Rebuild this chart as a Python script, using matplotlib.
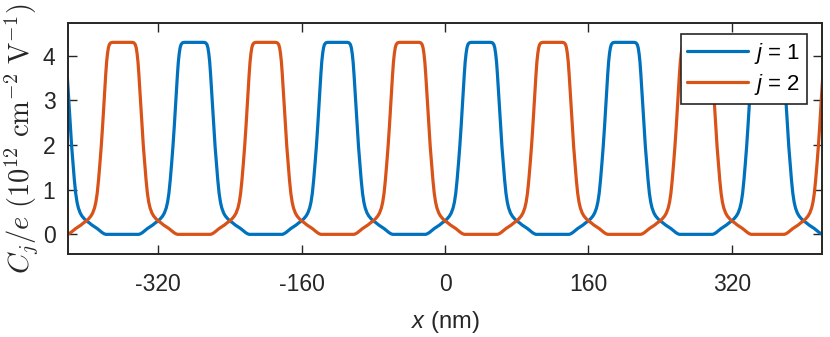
import numpy as np
import matplotlib
matplotlib.use("Agg")
import matplotlib.pyplot as plt

# ======================================================
# Data
# ======================================================
# one half of a peak: distance from peak centre (nm) -> C_j/e
profile_offset = [0, 11, 13, 14.5, 15.5, 16.5, 17.5, 18.5, 19.5, 20.5, 22.0,
                  23.5, 25.0, 26.5, 28.0, 29.5, 31.0, 33.0, 35.0, 37.5, 40.0,
                  43.0, 46.0, 49.0, 52.0, 55.0, 57.5, 59.5, 61.5, 80.0]
profile_value = [4.30, 4.30, 4.29, 4.25, 4.18, 4.05, 3.86, 3.58, 3.25, 2.92,
                 2.42, 1.97, 1.58, 1.22, 0.92, 0.72, 0.59, 0.48, 0.41, 0.35,
                 0.30, 0.26, 0.21, 0.17, 0.13, 0.08, 0.04, 0.015, 0.0, 0.0]

# peak centres (nm) for each dot j
centres_j1 = [-440, -280, -120, 40, 200, 360]
centres_j2 = [-360, -200, -40, 120, 280, 440]

labels = ["$j$ = 1", "$j$ = 2"]
colors = ["#0072BD", "#D95319"]

xticks = [-320, -160, 0, 160, 320]
yticks = [0, 1, 2, 3, 4]


def build_curve(centres):
    off = np.array(profile_offset)
    val = np.array(profile_value)
    x_half = np.concatenate([-off[::-1], off[1:]])
    y_half = np.concatenate([val[::-1], val[1:]])
    xs = np.concatenate([c + x_half for c in centres])
    ys = np.concatenate([y_half for c in centres])
    return xs, ys


plt.rcParams['font.family'] = ['Liberation Sans', 'DejaVu Sans']
plt.rcParams['mathtext.fontset'] = 'custom'
plt.rcParams['mathtext.rm'] = 'Liberation Sans'
plt.rcParams['mathtext.it'] = 'Liberation Sans:italic'
plt.rcParams['axes.unicode_minus'] = False

fig = plt.figure(figsize=(8.3, 3.37), dpi=100)
ax = fig.add_axes([0.0819, 0.2463, 0.9085, 0.6863])

for centres, lab, col in zip([centres_j1, centres_j2], labels, colors):
    xs, ys = build_curve(centres)
    ax.plot(xs, ys, color=col, linewidth=2.3, label=lab,
            solid_joinstyle='round', solid_capstyle='round')

ax.set_xlim(-420.6, 420.6)
ax.set_ylim(-0.44, 4.74)
ax.set_xticks(xticks)
ax.set_yticks(yticks)
ax.set_xticklabels([str(t) for t in xticks])

dark = "#262626"
ax.tick_params(direction='in', length=6.5, width=1.0, top=True, right=True,
               labelsize=16.5, colors=dark)
ax.tick_params(axis='x', pad=14)
ax.tick_params(axis='y', pad=9)
for s in ax.spines.values():
    s.set_color(dark)
    s.set_linewidth(1.4)

ax.set_xlabel("$x$ (nm)", fontsize=17, color=dark, labelpad=9)
ax.set_ylabel(r"$C_j/e\ (10^{12}\ \mathrm{cm}^{-2}\ \mathrm{V}^{-1})$",
              fontsize=20.5, color=dark, math_fontfamily='cm', labelpad=1)

leg = ax.legend(loc='upper right', bbox_to_anchor=(0.9797, 0.950),
                borderaxespad=0, fontsize=16, handlelength=2.75,
                handletextpad=0.25, labelspacing=0.28, borderpad=0.3,
                fancybox=False, framealpha=1)
leg.get_frame().set_edgecolor(dark)
leg.get_frame().set_linewidth(1.2)
for line in leg.get_lines():
    line.set_linewidth(2.3)

fig.savefig("out.png", dpi=100)
